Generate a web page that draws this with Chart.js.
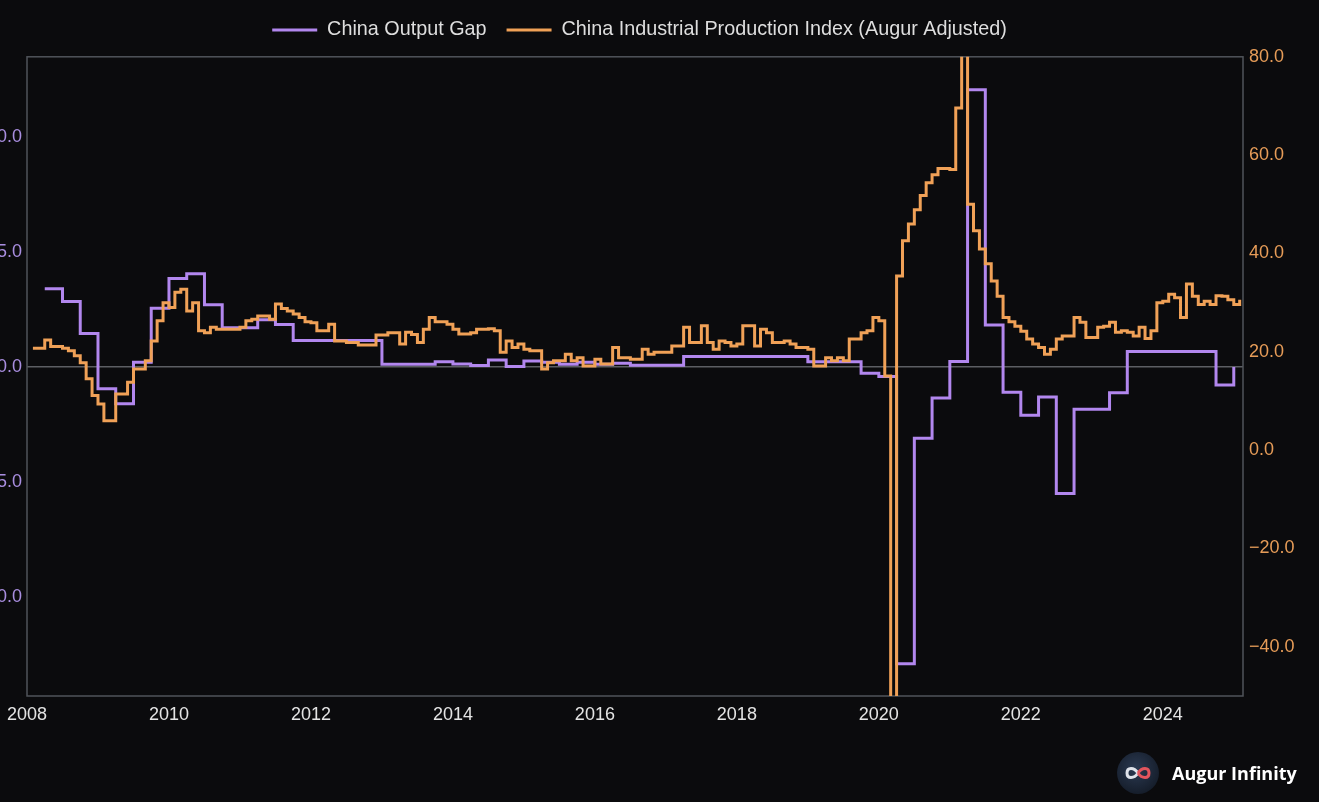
<!DOCTYPE html>
<html>
<head>
<meta charset="utf-8">
<script src="https://cdn.jsdelivr.net/npm/chart.js@4.4.1/dist/chart.umd.min.js"></script>
<style>
html, body { margin: 0; padding: 0; background: #0b0b0d; width: 1319px; height: 802px; overflow: hidden; }
#wrap { position: absolute; left: -40px; top: 0; width: 1359px; height: 802px; }
#logo { position: absolute; left: 1117px; top: 752px; height: 42px; display: flex; align-items: center; }
#logo .ball { width: 42px; height: 42px; border-radius: 50%; background: radial-gradient(circle at 45% 40%, #2b3a52, #151d2a 75%); display: flex; align-items: center; justify-content: center; }
#logo span { margin-left: 13px; color: #ffffff; font: bold 18px "Open Sans", "Noto Sans", sans-serif; }
</style>
</head>
<body>
<div id="wrap"><canvas id="myChart" width="1359" height="802"></canvas></div>
<div id="logo">
  <div class="ball">
    <svg width="28" height="16" viewBox="0 0 28 16">
      <path d="M14 8 C10 2, 3 2, 3 8 C3 14, 10 14, 14 8" stroke="#dfe3ea" stroke-width="3" fill="none"/>
      <path d="M14 8 C18 2, 25 2, 25 8 C25 14, 18 14, 14 8" stroke="#e2555d" stroke-width="3" fill="none"/>
    </svg>
  </div>
  <span>Augur Infinity</span>
</div>
<script>
// x axis: decimal years
const xTicks = [2008, 2010, 2012, 2014, 2016, 2018, 2020, 2022, 2024];
const gapTicks = [-10, -5, 0, 5, 10];
const ipTicks = [-40, -20, 0, 20, 40, 60, 80];

// China Output Gap, quarterly from 2008 Q2
const gapStart = 2008.25;
const gapValues = [
  3.4, 2.85, 1.45,
  -0.95, -1.6, 0.2, 2.55,
  3.85, 4.05, 2.7, 1.7,
  1.7, 2.05, 1.85, 1.15,
  1.15, 1.15, 1.15, 1.15,
  0.12, 0.12, 0.12, 0.23,
  0.13, 0.06, 0.3, 0.02,
  0.26, 0.2, 0.12, 0.2,
  0.12, 0.16, 0.08, 0.08,
  0.08, 0.45, 0.45, 0.45,
  0.45, 0.45, 0.45, 0.45,
  0.23, 0.23, 0.23, -0.27,
  -0.41, -12.9, -3.1, -1.35,
  0.24, 12.05, 1.82, -1.1,
  -2.1, -1.3, -5.5, -1.84,
  -1.84, -1.12, 0.67, 0.67,
  0.67, 0.67, 0.67, -0.78,
  0.0
];

// China Industrial Production Index (Augur Adjusted), monthly from Feb 2008
const ipStart = 2008 + 1 / 12;
const ipValues = [
  20.7, 20.7, 22.4, 21.1, 21.1, 20.7, 20.2, 19.2, 17.8, 14.5, 11.1,
  9.4, 6.0, 6.0, 11.4, 11.4, 13.8, 16.5, 16.5, 18.2, 22.2, 26.3, 30.0,
  29.0, 32.1, 32.7, 28.3, 30.0, 24.3, 23.9, 25.0, 24.6, 24.6, 24.6, 24.6,
  25.0, 26.3, 26.6, 27.3, 27.3, 26.6, 29.7, 28.8, 28.3, 27.7, 27.0, 26.1,
  25.9, 24.3, 24.3, 25.6, 22.2, 22.2, 21.9, 21.9, 21.4, 21.4, 21.4, 23.4,
  23.4, 23.9, 23.9, 21.6, 24.0, 23.5, 21.9, 24.6, 27.0, 26.1, 26.1, 25.6,
  24.6, 23.6, 23.6, 23.9, 24.6, 24.6, 24.7, 24.3, 19.9, 22.2, 20.9, 21.6,
  20.5, 20.2, 20.2, 16.5, 17.8, 18.2, 18.2, 19.5, 18.2, 18.8, 17.1, 17.1,
  18.5, 17.5, 17.5, 20.9, 18.8, 18.8, 18.5, 18.5, 20.5, 19.5, 19.9, 19.9,
  19.9, 21.2, 21.2, 25.0, 21.9, 21.9, 25.3, 21.9, 20.5, 22.2, 21.9, 21.2,
  21.6, 25.3, 25.3, 21.2, 24.6, 23.9, 21.9, 21.9, 22.2, 21.6, 20.9, 20.9,
  20.5, 17.1, 17.1, 18.8, 18.2, 18.8, 18.2, 22.6, 22.6, 23.9, 24.3, 27.0,
  26.3, 15.1, -60, 35.4, 42.6, 46.0, 48.9, 51.8, 54.4, 56.0, 57.3, 57.3,
  57.1, 69.6, 95, 50.0, 44.6, 40.9, 37.9, 34.4, 31.3, 27.0, 26.1, 25.2,
  24.2, 22.6, 21.6, 20.9, 19.5, 20.5, 22.6, 23.2, 23.2, 27.0, 26.0, 22.9,
  22.9, 25.0, 25.2, 26.0, 24.0, 24.3, 24.0, 23.2, 25.0, 22.7, 24.3, 30.0,
  30.3, 31.7, 31.0, 27.0, 33.8, 31.3, 29.6, 30.3, 29.6, 31.4, 31.3, 30.6,
  29.6, 30.6
];

const purple = '#b287ee';
const orange = '#f0a157';

Chart.defaults.font.family = '"Liberation Sans", Arial, sans-serif';

function fmt(v) {
  return (v < 0 ? '\u2212' : '') + Math.abs(v).toFixed(1);
}

// push plot area down below the legend
const legendGap = {
  id: 'legendGap',
  beforeInit(chart) {
    const fit = chart.legend.fit;
    chart.legend.fit = function () {
      fit.bind(chart.legend)();
      this.height += 7;
    };
  }
};

// grey frame round the plot area
const frame = {
  id: 'frame',
  beforeDatasetsDraw(chart) {
    const a = chart.chartArea, ctx = chart.ctx;
    ctx.save();
    ctx.strokeStyle = '#50545a';
    ctx.lineWidth = 1.5;
    ctx.strokeRect(a.left, a.top, a.right - a.left, a.bottom - a.top);
    ctx.restore();
  }
};

var ctx = document.getElementById('myChart').getContext('2d');
var myChart = new Chart(ctx, {
  type: 'line',
  data: {
    datasets: [{
      label: 'China Output Gap',
      data: gapValues.map((v, k) => ({ x: gapStart + k * 0.25, y: v })),
      yAxisID: 'yGap',
      borderColor: purple,
      backgroundColor: purple,
      borderWidth: 3,
      stepped: true,
      pointRadius: 0,
      clip: 0,
      order: 1
    }, {
      label: 'China Industrial Production Index (Augur Adjusted)',
      data: ipValues.map((v, k) => ({ x: ipStart + k / 12, y: v })),
      yAxisID: 'yIP',
      borderColor: orange,
      backgroundColor: orange,
      borderWidth: 3,
      stepped: true,
      pointRadius: 0,
      clip: 0,
      order: 0
    }]
  },
  options: {
    responsive: false,
    animation: false,
    devicePixelRatio: 1,
    layout: { padding: 0 },
    plugins: {
      tooltip: { enabled: false },
      legend: {
        display: true,
        position: 'top',
        labels: {
          color: '#dedede',
          font: { size: 19.8 },
          usePointStyle: true,
          pointStyle: 'line',
          pointStyleWidth: 45,
          padding: 20,
          sort: (a, b) => a.datasetIndex - b.datasetIndex
        }
      }
    },
    scales: {
      x: {
        type: 'linear',
        min: 2008,
        max: 2025.13,
        afterBuildTicks: (s) => { s.ticks = xTicks.map(v => ({ value: v })); },
        afterFit: (s) => { s.height = 106; },
        ticks: { color: '#e4e4e4', font: { size: 18 }, padding: 8, maxRotation: 0, callback: (v) => String(v) },
        grid: { display: false, drawTicks: false },
        border: { display: false }
      },
      yGap: {
        type: 'linear',
        position: 'left',
        min: -14.3,
        max: 13.48,
        afterBuildTicks: (s) => { s.ticks = gapTicks.map(v => ({ value: v })); },
        afterFit: (s) => { s.width = 67; },
        ticks: { color: '#a98ee0', font: { size: 18 }, padding: 5, callback: fmt },
        grid: {
          drawTicks: false,
          lineWidth: 1.5,
          color: (c) => (c.tick && c.tick.value === 0 ? '#5c5e63' : 'rgba(0,0,0,0)')
        },
        border: { display: false }
      },
      yIP: {
        type: 'linear',
        position: 'right',
        min: -50,
        max: 80,
        afterBuildTicks: (s) => { s.ticks = ipTicks.map(v => ({ value: v })); },
        afterFit: (s) => { s.width = 76; },
        ticks: { color: '#e69c58', font: { size: 18 }, padding: 6, callback: fmt },
        grid: { display: false, drawTicks: false },
        border: { display: false }
      }
    }
  },
  plugins: [legendGap, frame]
});
</script>
</body>
</html>
